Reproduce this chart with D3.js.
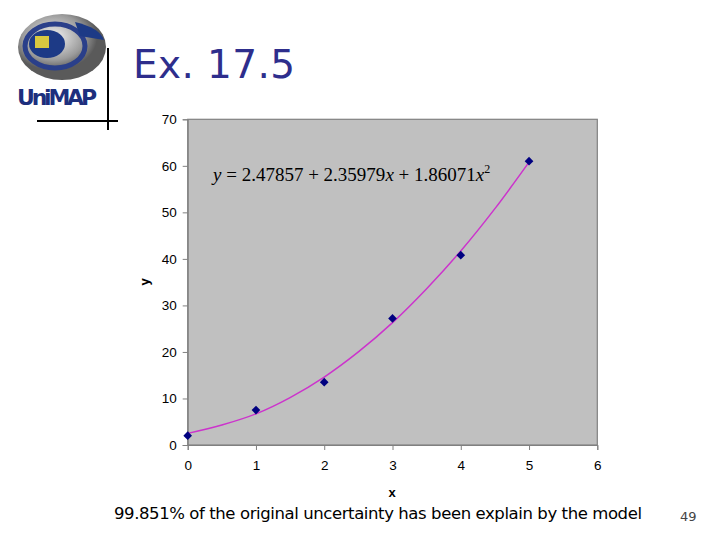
<!DOCTYPE html>
<html><head><meta charset="utf-8">
<script src="https://cdn.jsdelivr.net/npm/d3@7"></script>
<style>body{margin:0;background:#fff}svg{display:block}</style>
</head><body>
<svg id="c" width="720" height="540"></svg>
<script>
const xValues = [0, 1, 2, 3, 4, 5];
const yValues = [2.0, 7.5, 13.5, 27.2, 40.8, 61.0];
const fitX = [0, 0.5, 1, 1.5, 2, 2.5, 3, 3.5, 4, 4.5, 5];
const fitY = [2.5, 4.3, 6.7, 10.2, 14.6, 20.0, 26.3, 33.6, 41.7, 50.8, 60.8];
const xTicks = [0, 1, 2, 3, 4, 5, 6];
const yTicks = [0, 10, 20, 30, 40, 50, 60, 70];
const titleText = "Ex. 17.5";
const equationParts = ["y", " = 2.47857 + 2.35979", "x", " + 1.86071", "x", "2"];
const footerText = "99.851% of the original uncertainty has been explain by the model";
const pageNum = "49";

const svg = d3.select("#c");
const L = 187.7, R = 597.3, T = 119.3, B = 445;
const x = d3.scaleLinear().domain([0, 6]).range([L, R]);
const y = d3.scaleLinear().domain([0, 70]).range([B, T]);

// logo
const logo = svg.append("g");
const grad = svg.append("defs").append("radialGradient").attr("id","lg").attr("cx","40%").attr("cy","35%");
grad.append("stop").attr("offset","0%").attr("stop-color","#f4f4f4");
grad.append("stop").attr("offset","70%").attr("stop-color","#9a9a9a");
grad.append("stop").attr("offset","100%").attr("stop-color","#5a5a5a");
logo.append("ellipse").attr("cx",62).attr("cy",47).attr("rx",44).attr("ry",33).attr("fill","url(#lg)");
logo.append("ellipse").attr("cx",55).attr("cy",46).attr("rx",30).attr("ry",22).attr("fill","none").attr("stroke","#2a3f8a").attr("stroke-width",5);
logo.append("ellipse").attr("cx",47).attr("cy",44).attr("rx",18).attr("ry",14).attr("fill","#1d3a86");
logo.append("path").attr("d","M75,22 Q100,28 104,40 L80,36 Z").attr("fill","#1d3a86");
logo.append("rect").attr("x",35).attr("y",36).attr("width",14).attr("height",12).attr("fill","#d8c840");
logo.append("text").attr("x",17).attr("y",105).attr("font-family","DejaVu Sans, sans-serif")
  .attr("font-weight","bold").attr("font-size",22).attr("fill","#1d2f7d").attr("textLength",80).text("UniMAP");
svg.append("line").attr("x1",108).attr("x2",108).attr("y1",48).attr("y2",130).attr("stroke","#000").attr("stroke-width",2);
svg.append("line").attr("x1",37).attr("x2",118).attr("y1",121).attr("y2",121).attr("stroke","#000").attr("stroke-width",2);

// title
svg.append("text").attr("x",133).attr("y",78).attr("font-family","DejaVu Sans, sans-serif")
  .attr("font-size",39).attr("fill","#2e2e8c").attr("textLength",162).text(titleText);

// plot area
svg.append("rect").attr("x",L).attr("y",T).attr("width",R-L).attr("height",B-T)
  .attr("fill","#c0c0c0").attr("stroke","#808080").attr("stroke-width",1.2);

const xa = svg.append("g").attr("transform",`translate(0,${B})`)
  .call(d3.axisBottom(x).tickValues(xTicks).tickSize(5).tickPadding(10).tickFormat(d3.format("d")));
const ya = svg.append("g").attr("transform",`translate(${L},0)`)
  .call(d3.axisLeft(y).tickValues(yTicks).tickSize(5).tickPadding(6).tickFormat(d3.format("d")));
[xa, ya].forEach(a => {
  a.selectAll("path").attr("stroke","#808080");
  a.selectAll("line").attr("stroke","#808080");
  a.selectAll("text").attr("font-family","Liberation Sans, Arial, sans-serif").attr("font-size",13.5).attr("fill","#000");
});

svg.append("text").attr("x",392).attr("y",497).attr("text-anchor","middle")
  .attr("font-family","Liberation Sans, Arial, sans-serif").attr("font-weight","bold").attr("font-size",13).text("x");
svg.append("text").attr("transform","translate(149,282) rotate(-90)").attr("text-anchor","middle")
  .attr("font-family","Liberation Sans, Arial, sans-serif").attr("font-weight","bold").attr("font-size",13).text("y");

// fit curve
const fit = fitX.map((v,i)=>[v, fitY[i]]);
svg.append("path").datum(fit).attr("fill","none").attr("stroke","#cc33cc").attr("stroke-width",1.5)
  .attr("d", d3.line().x(d=>x(d[0])).y(d=>y(d[1])).curve(d3.curveCatmullRom));

// points
svg.append("g").selectAll("path").data(xValues.map((v,i)=>[v,yValues[i]])).join("path")
  .attr("transform", d=>`translate(${x(d[0])},${y(d[1])})`)
  .attr("d", d3.symbol(d3.symbolDiamond2, 48)).attr("fill","#000080");

// equation
const eq = svg.append("text").attr("x",213).attr("y",181).attr("font-family","Liberation Serif, Times New Roman, serif")
  .attr("font-size",19).attr("fill","#000");
eq.append("tspan").attr("font-style","italic").text(equationParts[0]);
eq.append("tspan").text(equationParts[1]);
eq.append("tspan").attr("font-style","italic").text(equationParts[2]);
eq.append("tspan").text(equationParts[3]);
eq.append("tspan").attr("font-style","italic").text(equationParts[4]);
eq.append("tspan").attr("font-size",12).attr("dy",-8).text(equationParts[5]);

// footer
svg.append("text").attr("x",114).attr("y",519).attr("font-family","DejaVu Sans, Tahoma, sans-serif")
  .attr("font-size",16.5).attr("fill","#000").attr("textLength",528).text(footerText);
svg.append("text").attr("x",680).attr("y",521).attr("font-family","DejaVu Sans, Tahoma, sans-serif")
  .attr("font-size",13).attr("fill","#444").text(pageNum);
</script>
</body></html>
